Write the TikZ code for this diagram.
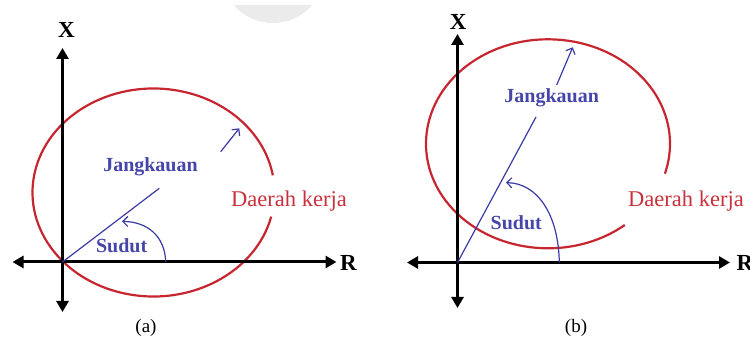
\documentclass[tikz,border=0pt]{standalone}
\usepackage{fontspec}
\setmainfont{Liberation Serif}
\usetikzlibrary{arrows.meta}
\definecolor{ered}{RGB}{198,38,48}
\definecolor{tred}{RGB}{200,50,60}
\definecolor{eblue}{RGB}{58,58,165}
\definecolor{tblue}{RGB}{70,70,170}
\begin{document}
\begin{tikzpicture}[x=1pt,y=-1pt,
  axis/.style={line width=3pt,{Triangle[length=11pt,width=12pt]}-{Triangle[length=11pt,width=12pt]}},
  work/.style={draw=ered,line width=2.2pt},
  reach/.style={draw=eblue,line width=1.2pt},
  pointer/.style={draw=eblue,line width=1.2pt,-{Straight Barb[length=5pt,width=10pt]}},
  axlabel/.style={inner sep=0pt,anchor=base,font=\fontsize{23}{23}\selectfont\bfseries},
  bluelabel/.style={inner sep=0pt,anchor=base,text=tblue,font=\fontsize{20}{20}\selectfont\bfseries},
  redlabel/.style={inner sep=0pt,anchor=base,text=tred,font=\fontsize{22.5}{22.5}\selectfont},
  caption/.style={inner sep=0pt,anchor=base,font=\fontsize{19}{19}\selectfont}]
\useasboundingbox (0,0) rectangle (750,344);
% faint watermark
\begin{scope}
  \clip (0,6) rectangle (750,344);
  \fill[gray!16] (273,-29) circle[radius=52];
\end{scope}

% ---------- panel (a) ----------
\coordinate (Oa) at (62.5,262);
\coordinate (aT) at (62.5,48);
\coordinate (aB) at (62.5,312);
\coordinate (aL) at (12.5,262);
\coordinate (aR) at (336.5,262);
\coordinate (Ca) at (153.5,192.5);
\draw[work] (Ca) ++(13.4:121 and 104) arc[start angle=13.4,end angle=350.5,x radius=121,y radius=104];
\draw[axis] (aT) -- (aB);
\draw[axis] (aL) -- (aR);
\node[axlabel] (Xa) at (66.5,38) {X};
\node[axlabel] (Ra) at (348.5,271) {R};
\coordinate (Ja) at (159.3,188.3);
\draw[reach] (Oa) -- (Ja);
\coordinate (pa1) at (220.7,151.7);
\coordinate (pa2) at (239.3,128.3);
\draw[pointer] (pa1) -- (pa2);
\coordinate (sa1) at (165.7,262);
\coordinate (sa2) at (122,221.5);
\draw[pointer] (sa1) .. controls (165,236) and (147,221.5) .. (sa2);
\node[bluelabel] (jka) at (150.5,171.5) {Jangkauan};
\node[bluelabel] (sda) at (121.7,253) {Sudut};
\node[redlabel] (dka) at (289,207) {Daerah kerja};
\node[caption] (capa) at (146,333) {(a)};

% ---------- panel (b) ----------
\coordinate (Ob) at (457.5,262.5);
\coordinate (bT) at (457.5,34);
\coordinate (bB) at (457.5,308);
\coordinate (bL) at (407,262.5);
\coordinate (bR) at (730,262.5);
\coordinate (Cb) at (548,143.8);
\draw[work] (Cb) ++(51:122 and 104.5) arc[start angle=51,end angle=376.6,x radius=122,y radius=104.5];
\draw[axis] (bT) -- (bB);
\draw[axis] (bL) -- (bR);
\node[axlabel] (Xb) at (458.3,30) {X};
\node[axlabel,anchor=base west] (Rb) at (736.5,271) {R};
\coordinate (Jb) at (536,117);
\draw[reach] (Ob) -- (Jb);
\coordinate (pb1) at (556.7,85);
\coordinate (pb2) at (572.7,47.3);
\draw[pointer] (pb1) -- (pb2);
\coordinate (sb1) at (559.3,262.5);
\coordinate (sb2) at (506,182.7);
\draw[pointer] (sb1) .. controls (558.5,214) and (537,183) .. (sb2);
\node[bluelabel] (jkb) at (551.7,103) {Jangkauan};
\node[bluelabel] (sdb) at (516.3,230) {Sudut};
\node[redlabel] (dkb) at (686,207) {Daerah kerja};
\node[caption] (capb) at (576,333) {(b)};
\end{tikzpicture}
\end{document}
